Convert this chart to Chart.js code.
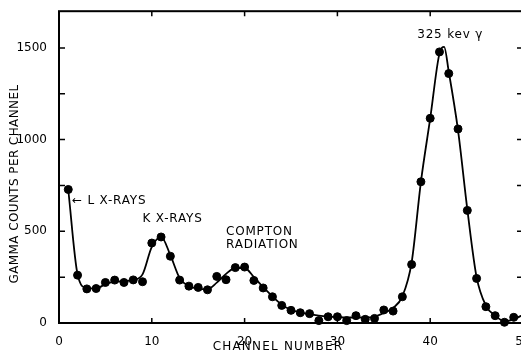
<!DOCTYPE html>
<html>
<head>
<meta charset="utf-8">
<script src="https://cdn.jsdelivr.net/npm/chart.js@4.4.0/dist/chart.umd.min.js"></script>
<style>
html, body { margin: 0; padding: 0; background: #fff; overflow: hidden; }
#wrap { width: 540px; height: 353px; }
</style>
</head>
<body>
<div id="wrap"><canvas id="grafico"></canvas></div>
<script>
// pontos medidos (canal, contagens)
const canais = [1, 2, 3, 4, 5, 6, 7, 8, 9, 10, 11, 12, 13, 14, 15, 16, 17, 18, 19, 20, 21, 22, 23, 24, 25,
    26, 27, 28, 29, 30, 31, 32, 33, 34, 35, 36, 37, 38, 39, 40, 41, 42, 43, 44, 45, 46, 47, 48, 49];
const contagens = [728, 261, 186, 188, 221, 234, 221, 235, 225, 436, 469, 364, 234, 201, 194, 181, 254, 236, 302, 305,
    232, 191, 143, 96, 69, 56, 51, 13, 34, 34, 13, 40, 20, 25, 71, 65, 143, 319, 770, 1116,
    1478, 1360, 1058, 614, 243, 89, 40, 4, 31];

// curva suave
const curvaX = [1, 2, 3, 4, 5, 6, 7, 8, 9, 10, 11, 12, 13, 14, 15, 16, 17, 18, 19, 20, 21, 22, 23, 24, 25,
    26, 27, 28, 29, 30, 31, 32, 33, 34, 35, 36, 37, 38, 39, 40, 41, 41.5, 42, 43, 44, 45, 46, 47, 48, 49, 50];
const curvaY = [725, 265, 190, 188, 212, 225, 228, 235, 265, 415, 470, 370, 245, 200, 188, 185, 220, 268, 300, 300,
    250, 195, 145, 100, 72, 57, 48, 40, 35, 32, 30, 30, 30, 35, 55, 82, 145, 330, 770, 1115,
    1470, 1505, 1370, 1050, 620, 250, 95, 40, 10, 20, 45];

const xTicks = [0, 10, 20, 30, 40, 50];
const yTicks = [0, 250, 500, 750, 1000, 1250, 1500];
const yRotulos = [0, 500, 1000, 1500];

const notas = [
    { texto: '\u2190 L X-RAYS', x: 1.4, y: 665 },
    { texto: 'K X-RAYS', x: 9.0, y: 565 },
    { texto: 'COMPTON', x: 18.0, y: 496 },
    { texto: 'RADIATION', x: 18.0, y: 424 },
    { texto: '325 kev \u03b3', x: 38.6, y: 1571 }
];

const fonte = 'DejaVu Sans';

const desenhoExtra = {
    id: 'desenhoExtra',
    afterDraw(chart) {
        const { ctx, chartArea: a, scales: { x, y } } = chart;
        ctx.save();
        ctx.strokeStyle = '#000';
        ctx.lineWidth = 2;
        ctx.strokeRect(a.left, a.top, a.right - a.left, a.bottom - a.top);

        // marcas para dentro
        ctx.lineWidth = 1.5;
        ctx.beginPath();
        x.ticks.forEach(t => {
            const px = x.getPixelForValue(t.value);
            if (px <= a.left + 1 || px >= a.right - 1) return;
            ctx.moveTo(px, a.bottom); ctx.lineTo(px, a.bottom - 5);
            ctx.moveTo(px, a.top); ctx.lineTo(px, a.top + 5);
        });
        y.ticks.forEach(t => {
            const py = y.getPixelForValue(t.value);
            if (py >= a.bottom - 1) return;
            ctx.moveTo(a.left, py); ctx.lineTo(a.left + 6, py);
            ctx.moveTo(a.right, py); ctx.lineTo(a.right - 6, py);
        });
        ctx.stroke();

        ctx.fillStyle = '#000';
        ctx.font = '12px "' + fonte + '"';
        ctx.textBaseline = 'middle';
        ctx.textAlign = 'left';
        ctx.letterSpacing = '0.8px';
        notas.forEach(n => {
            ctx.fillText(n.texto, x.getPixelForValue(n.x), y.getPixelForValue(n.y));
        });

        // titulos dos eixos
        ctx.textAlign = 'center';
        ctx.letterSpacing = '1.2px';
        ctx.fillText('CHANNEL NUMBER', 278, 347);
        ctx.translate(15, 184);
        ctx.rotate(-Math.PI / 2);
        ctx.letterSpacing = '0.4px';
        ctx.fillText('GAMMA COUNTS PER CHANNEL', 0, 0);
        ctx.restore();
    }
};

const ctx = document.getElementById('grafico');

new Chart(ctx, {
    type: 'scatter',
    data: {
        datasets: [{
            data: curvaX.map((v, i) => ({ x: v, y: curvaY[i] })),
            showLine: true,
            borderColor: '#000',
            borderWidth: 1.8,
            pointRadius: 0,
            cubicInterpolationMode: 'monotone',
            fill: false
        }, {
            data: canais.map((v, i) => ({ x: v, y: contagens[i] })),
            showLine: false,
            pointRadius: 4,
            pointHoverRadius: 4,
            backgroundColor: '#000',
            borderColor: '#000',
            clip: 8
        }]
    },
    options: {
        responsive: true,
        maintainAspectRatio: false,
        animation: false,
        layout: { padding: { top: 10, right: 17, left: 0, bottom: 0 } },
        plugins: { legend: { display: false }, tooltip: { enabled: false } },
        scales: {
            x: {
                type: 'linear', min: 0, max: 50,
                afterBuildTicks: s => { s.ticks = xTicks.map(v => ({ value: v })); },
                afterFit: s => { s.height = 30; },
                grid: { display: false },
                border: { display: false },
                ticks: { color: '#000', font: { family: fonte, size: 12 }, padding: 4, maxRotation: 0 }
            },
            y: {
                type: 'linear', min: 0, max: 1700,
                afterBuildTicks: s => { s.ticks = yTicks.map(v => ({ value: v })); },
                afterFit: s => { s.width = 59; },
                grid: { display: false },
                border: { display: false },
                ticks: {
                    color: '#000', font: { family: fonte, size: 12 }, padding: 4,
                    callback: v => yRotulos.includes(v) ? v : ''
                }
            }
        }
    },
    plugins: [desenhoExtra]
});
</script>
</body>
</html>
